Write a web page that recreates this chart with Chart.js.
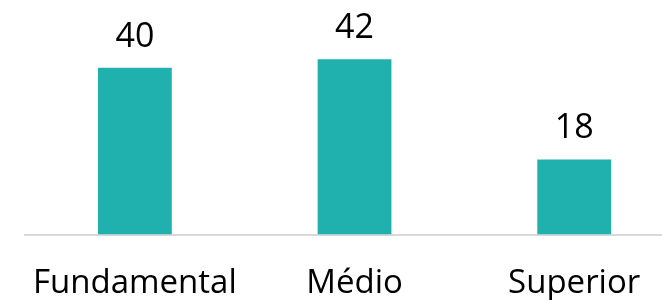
<!DOCTYPE html>
<html>
<head>
<meta charset="utf-8">
<script src="https://cdn.jsdelivr.net/npm/chart.js@4"></script>
<style>
  html, body { margin: 0; padding: 0; background: #fff; overflow: hidden; }
  #wrap { width: 662px; height: 300px; overflow: hidden; }
  #chart { display: block; }
</style>
</head>
<body>
<div id="wrap"><canvas id="chart" width="700" height="300"></canvas></div>
<script>
const categories = ['Fundamental', 'Médio', 'Superior'];
const values = [40, 42, 18];

const FONT = '"Open Sans", sans-serif';

// draws the value above each bar
const valueLabels = {
  id: 'valueLabels',
  afterDatasetsDraw(chart) {
    const ctx = chart.ctx;
    const meta = chart.getDatasetMeta(0);
    ctx.save();
    ctx.font = '34px ' + FONT;
    ctx.fillStyle = '#000';
    ctx.textAlign = 'center';
    ctx.textBaseline = 'alphabetic';
    meta.data.forEach((bar, i) => {
      ctx.fillText(String(values[i]), bar.x, bar.y - 21);
    });
    ctx.restore();
  }
};

new Chart(document.getElementById('chart'), {
  type: 'bar',
  data: {
    labels: categories,
    datasets: [{
      data: values,
      backgroundColor: '#20B1AF',
      barPercentage: 0.336,
      categoryPercentage: 1
    }]
  },
  options: {
    responsive: false,
    animation: false,
    layout: { padding: { left: 24, right: 16, top: 26, bottom: 0 } },
    plugins: { legend: { display: false }, tooltip: { enabled: false } },
    scales: {
      x: {
        grid: { display: false, drawTicks: false },
        border: { display: true, color: '#d9d9d9', width: 2 },
        ticks: { color: '#000', font: { family: FONT, size: 33 }, padding: 29, maxRotation: 0, autoSkip: false },
        afterFit(scale) { scale.height = 65.5; }
      },
      y: {
        display: false,
        min: 0,
        max: 50
      }
    }
  },
  plugins: [valueLabels]
});
</script>
</body>
</html>
